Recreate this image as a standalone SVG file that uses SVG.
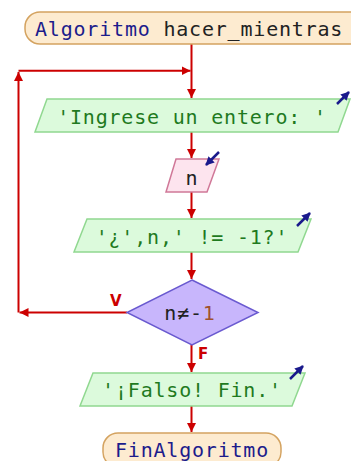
<svg xmlns="http://www.w3.org/2000/svg" width="351" height="461" viewBox="0 0 351 461">
<defs>
<marker id="ar" viewBox="0 0 10 10" refX="10" refY="5" markerWidth="4.5" markerHeight="4.5" orient="auto" markerUnits="strokeWidth"><path d="M0,0 L10,5 L0,10 z" fill="#cc0000"/></marker>
<marker id="ab" viewBox="0 0 10 10" refX="9" refY="5" markerWidth="3.5" markerHeight="3.5" orient="auto" markerUnits="strokeWidth"><path d="M0,0 L10,5 L0,10 z" fill="#1a1a8c"/></marker>
<style>
.term{fill:#fdebd0;stroke:#d4a360;stroke-width:1.5}
.out{fill:#dcfadc;stroke:#90d890;stroke-width:1.5}
.inp{fill:#fde4ee;stroke:#d07898;stroke-width:1.5}
.dec{fill:#c8b6fc;stroke:#6a5ad0;stroke-width:1.5}
.t{font-family:"DejaVu Sans Mono","Liberation Mono",monospace;font-size:20px;letter-spacing:0.8px}
.kw{fill:#1c1c8c}
.dk{fill:#222222}
.gr{fill:#1f7a1f}
.br{fill:#a0522d}
.lbl{font-family:"DejaVu Sans","Liberation Sans",sans-serif;font-size:15px;font-weight:bold;fill:#cc0000}
.c{stroke:#cc0000;stroke-width:2;fill:none}
.io{stroke:#1a1a8c;stroke-width:2.5;fill:none}
</style>
</defs>
<g id="connectors">
<path class="c" d="M191.5,44 V98" marker-end="url(#ar)"/>
<path class="c" d="M18.5,312.5 V72" marker-end="url(#ar)"/>
<path class="c" d="M18.5,70.7 H190.5" marker-end="url(#ar)"/>
<path class="c" d="M191.5,132 V158" marker-end="url(#ar)"/>
<path class="c" d="M191.5,192 V218" marker-end="url(#ar)"/>
<path class="c" d="M191.5,252 V279" marker-end="url(#ar)"/>
<path class="c" d="M127,312.5 H19.5" marker-end="url(#ar)"/>
<path class="c" d="M191.5,345 V372" marker-end="url(#ar)"/>
<path class="c" d="M191.5,406 V432" marker-end="url(#ar)"/>
<text class="lbl" x="110" y="306">V</text>
<text class="lbl" x="198" y="359">F</text>
</g>
<g id="start">
<rect class="term" x="25" y="12" width="345" height="32" rx="15" ry="15"/>
<text class="t" x="35" y="36"><tspan class="kw">Algoritmo</tspan><tspan class="dk"> hacer_mientras</tspan></text>
</g>
<g id="out1">
<polygon class="out" points="47,99 350,99 338,132 35,132"/>
<text class="t gr" x="192" y="124" text-anchor="middle">'Ingrese un entero: '</text>
<path class="io" d="M337,104 L349,92" marker-end="url(#ab)"/>
</g>
<g id="in1">
<polygon class="inp" points="176,159 219,159 207,192 166,192"/>
<text class="t dk" x="192" y="185" text-anchor="middle">n</text>
<path class="io" d="M219,152 L206,165" marker-end="url(#ab)"/>
</g>
<g id="out2">
<polygon class="out" points="87,219 311,219 298,252 74,252"/>
<text class="t gr" x="192" y="244" text-anchor="middle">'¿',n,' != -1?'</text>
<path class="io" d="M297,226 L310,213" marker-end="url(#ab)"/>
</g>
<g id="dec1">
<polygon class="dec" points="192,280 258,312.5 192,345 127,312.5"/>
<text class="t" x="190" y="320" text-anchor="middle"><tspan class="dk">n≠-</tspan><tspan class="br">1</tspan></text>
</g>
<g id="out3">
<polygon class="out" points="93,373 305,373 292,406 80,406"/>
<text class="t gr" x="192" y="397" text-anchor="middle">'¡Falso! Fin.'</text>
<path class="io" d="M290,379 L303,366" marker-end="url(#ab)"/>
</g>
<g id="end">
<rect class="term" x="103" y="433" width="178" height="34" rx="15" ry="15"/>
<text class="t kw" x="192" y="457" text-anchor="middle">FinAlgoritmo</text>
</g>
</svg>
